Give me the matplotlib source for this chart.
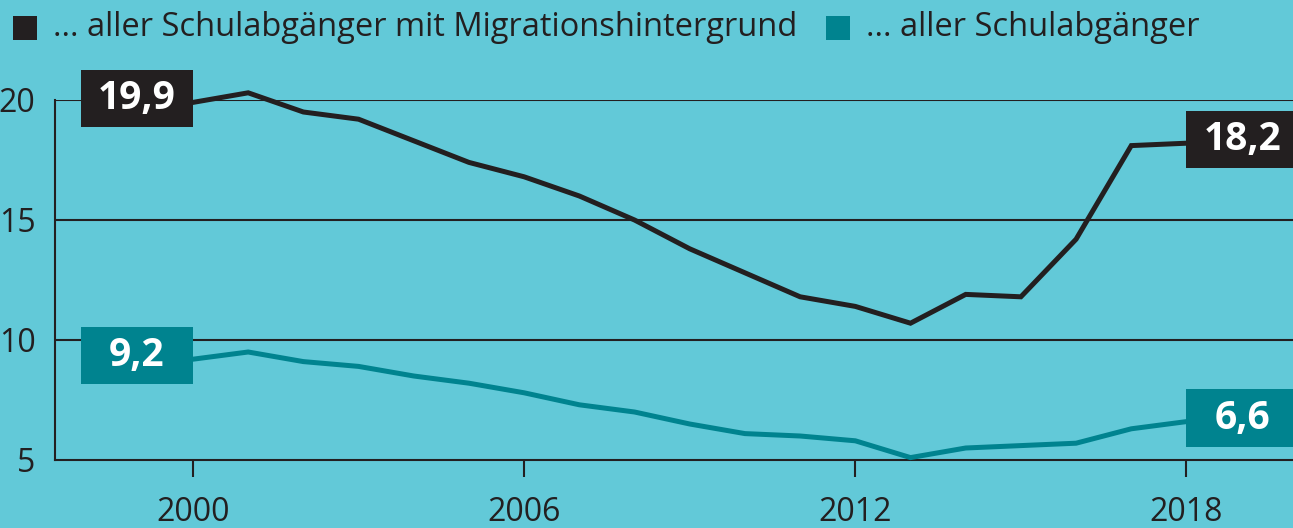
import matplotlib
matplotlib.use("Agg")
import matplotlib.pyplot as plt
from matplotlib.patches import Rectangle

years = list(range(2000, 2019))
migration = [19.9, 20.3, 19.5, 19.2, 18.3, 17.4, 16.8, 16.0, 15.0, 13.8,
             12.8, 11.8, 11.4, 10.7, 11.9, 11.8, 14.2, 18.1, 18.2]
alle = [9.2, 9.5, 9.1, 8.9, 8.5, 8.2, 7.8, 7.3, 7.0, 6.5,
        6.1, 6.0, 5.8, 5.1, 5.5, 5.6, 5.7, 6.3, 6.6]
series_names = ["... aller Schulabgänger mit Migrationshintergrund",
                "... aller Schulabgänger"]
xticks = [2000, 2006, 2012, 2018]
yticks = [5, 10, 15, 20]

bg = "#62c9d8"
black = "#231f20"
teal = "#00838f"
plt.rcParams["font.family"] = ["Open Sans", "DejaVu Sans"]

W, H = 1293, 528
fig = plt.figure(figsize=(W / 100, H / 100), dpi=100, facecolor=bg)
ax = fig.add_axes([55 / W, 68 / H, 1 - 55 / W, 360 / H])
ax.set_facecolor(bg)

ax.plot(years, migration, color=black, lw=3.6, clip_on=False, zorder=3,
        solid_joinstyle="miter")
ax.plot(years, alle, color=teal, lw=3.6, clip_on=False, zorder=3,
        solid_joinstyle="miter")

ax.set_xlim(1997.5, 2019.93)
ax.set_ylim(5, 20)
for y in yticks[1:]:
    ax.axhline(y, color=black, lw=1.5, zorder=1)

for s in ["top", "right"]:
    ax.spines[s].set_visible(False)
for s in ["left", "bottom"]:
    ax.spines[s].set_linewidth(1.5)
    ax.spines[s].set_color(black)

ax.set_yticks(yticks)
ax.set_yticklabels([str(v) for v in yticks])
ax.tick_params(axis="y", length=0, pad=14, labelsize=23, colors=black)
ax.set_xticks(xticks)
ax.set_xticklabels([str(v) for v in xticks])
ax.tick_params(axis="x", length=12, width=1.5, pad=14, labelsize=23, colors=black)

# value boxes at start and end
box_w = 2.03
box_h = 2.38
for vals, col in [(migration, black), (alle, teal)]:
    for x0, v, xc in [(years[0] - box_w, vals[0], years[0] - box_w / 2),
                      (years[-1], vals[-1], years[-1] + box_w / 2)]:
        ax.add_patch(Rectangle((x0, v - box_h / 2 + 0.15), box_w, box_h,
                               facecolor=col, edgecolor="none",
                               clip_on=False, zorder=4))
        ax.text(xc, v + 0.15, f"{v:.1f}".replace(".", ","), color="white",
                fontsize=28, fontweight="bold", ha="center", va="center",
                zorder=5, clip_on=False)

# legend drawn by hand
ly = 1 - 28 / H
sq = 24
x_px = 13
renderer = fig.canvas.get_renderer()
for name, col in zip(series_names, [black, teal]):
    fig.add_artist(Rectangle((x_px / W, ly - sq / 2 / H), sq / W, sq / H,
                             transform=fig.transFigure, facecolor=col,
                             edgecolor="none"))
    t = fig.text((x_px + sq + 16) / W, ly, name, fontsize=23.5, color=black,
                 va="center", ha="left")
    bb = t.get_window_extent(renderer)
    x_px = bb.x1 + 29

fig.savefig("out.png", dpi=100, facecolor=bg)
